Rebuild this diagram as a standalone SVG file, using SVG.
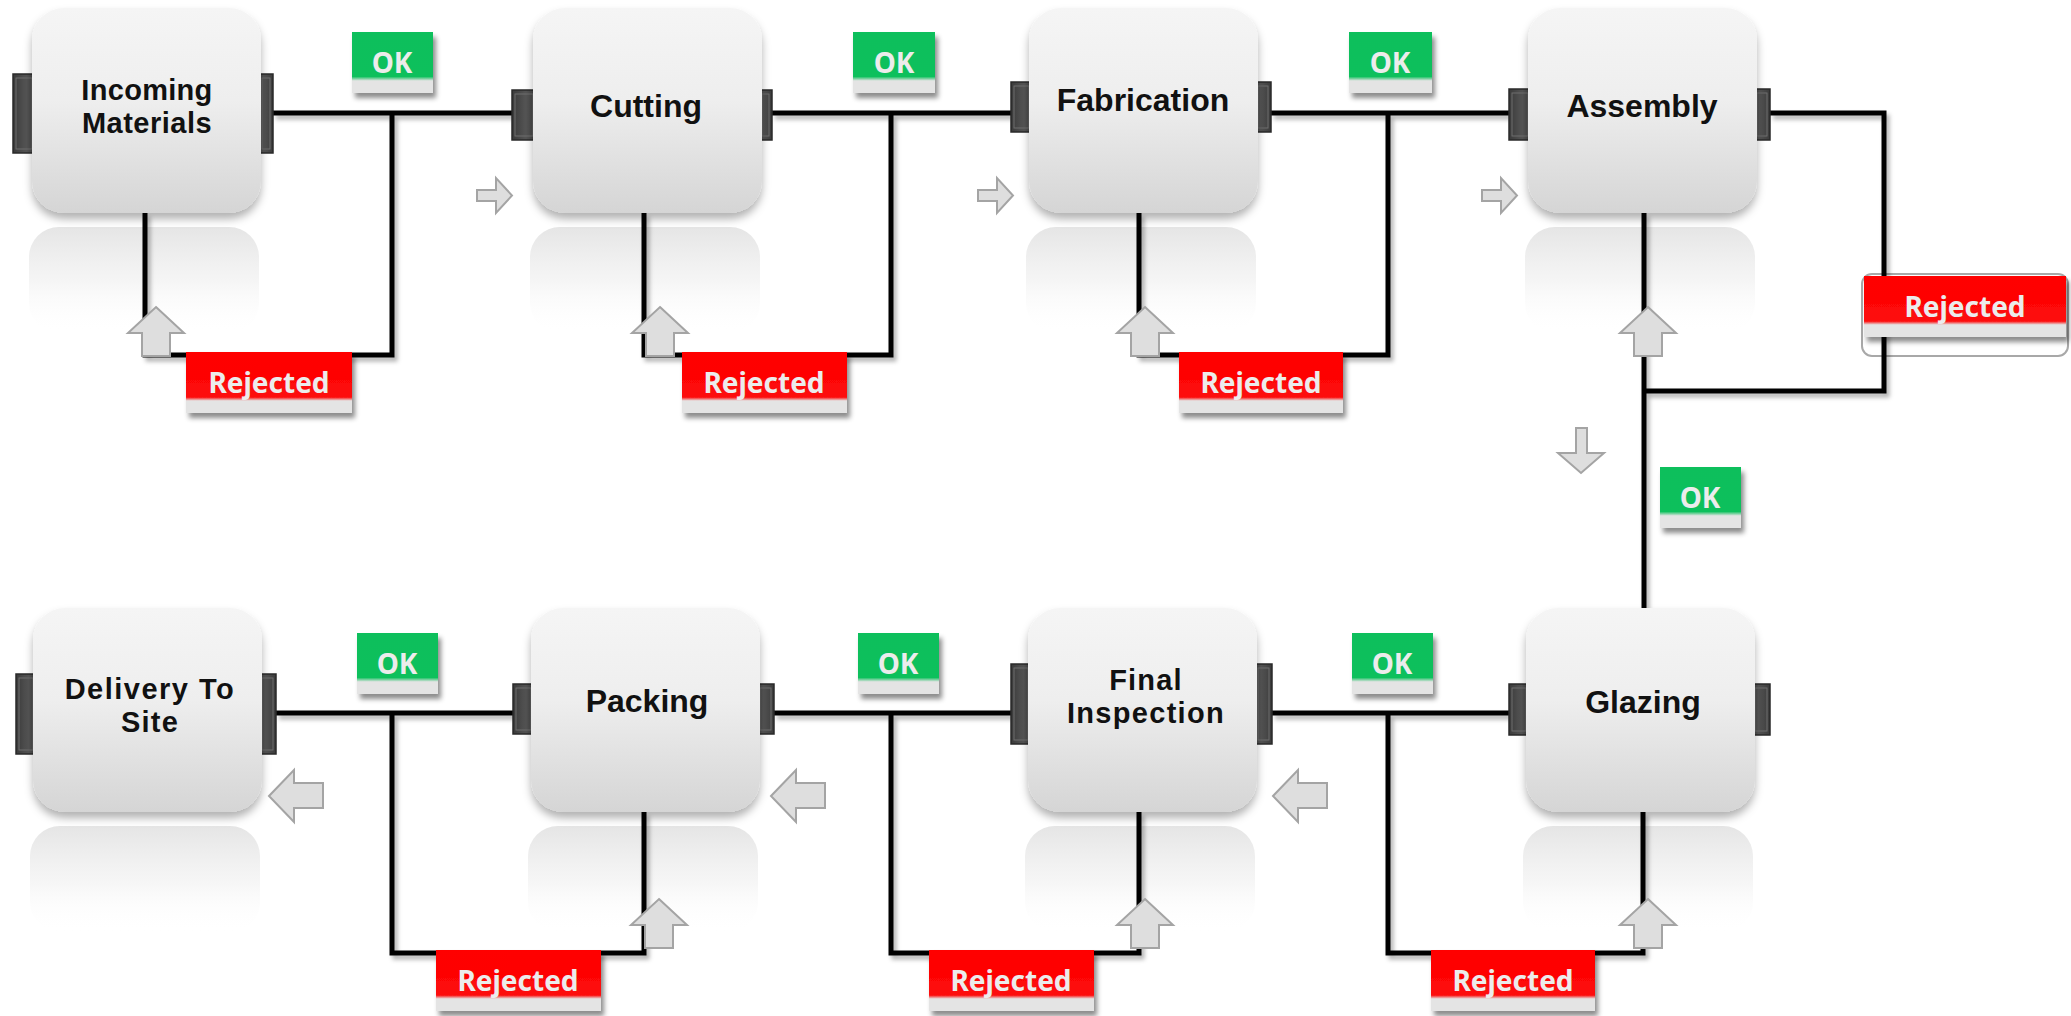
<svg xmlns="http://www.w3.org/2000/svg" width="2071" height="1016" viewBox="0 0 2071 1016">
<defs>
<linearGradient id="boxGrad" x1="0" y1="0" x2="0" y2="1">
<stop offset="0" stop-color="#f5f5f5"/><stop offset="0.45" stop-color="#eeeeee"/><stop offset="1" stop-color="#d5d5d5"/>
</linearGradient>
<linearGradient id="reflGrad" x1="0" y1="0" x2="0" y2="1">
<stop offset="0" stop-color="#e2e2e2" stop-opacity="0.9"/><stop offset="0.5" stop-color="#eeeeee" stop-opacity="0.6"/><stop offset="1" stop-color="#ffffff" stop-opacity="0"/>
</linearGradient>
<linearGradient id="okGrad" x1="0" y1="0" x2="0" y2="1">
<stop offset="0" stop-color="#0dbf5b"/><stop offset="0.73" stop-color="#0fc05c"/><stop offset="0.8" stop-color="#e4e4e4"/><stop offset="1" stop-color="#e4e4e4"/>
</linearGradient>
<linearGradient id="rejGrad" x1="0" y1="0" x2="0" y2="1">
<stop offset="0" stop-color="#ff0000"/><stop offset="0.74" stop-color="#fd0a0a"/><stop offset="0.8" stop-color="#e4e4e4"/><stop offset="1" stop-color="#e4e4e4"/>
</linearGradient>
<linearGradient id="tabGrad" x1="0" y1="0" x2="1" y2="0">
<stop offset="0" stop-color="#3a3a3a"/><stop offset="0.5" stop-color="#555555"/><stop offset="1" stop-color="#3a3a3a"/>
</linearGradient>
<filter id="boxShadow" x="-10%" y="-10%" width="120%" height="130%">
<feDropShadow dx="0" dy="6" stdDeviation="4" flood-color="#000" flood-opacity="0.3"/>
</filter>
<filter id="lblShadow" x="-10%" y="-20%" width="125%" height="150%">
<feDropShadow dx="3" dy="5" stdDeviation="2.5" flood-color="#000" flood-opacity="0.45"/>
</filter>
<filter id="lineShadow" x="-5%" y="-5%" width="110%" height="110%">
<feDropShadow dx="3" dy="4" stdDeviation="2" flood-color="#000" flood-opacity="0.3"/>
</filter>
<path id="arrR" d="M0,12 H19 V0 L35,17.5 L19,35 V23 H0 Z"/>
<path id="arrU" d="M28,0 L56,26 H42 V49 H14 V26 H0 Z"/>
<path id="arrL" d="M0,26 L25,0 V13 H54 V38 H25 V52 Z"/>
<path id="arrD" d="M18,0 H29 V25 H46 L23,45 L0,25 H18 Z"/>
</defs>
<style>
.refl{fill:url(#reflGrad)}
.box{fill:url(#boxGrad);filter:url(#boxShadow)}
.tab{fill:url(#tabGrad);stroke:#2a2a2a;stroke-width:1.5}
.tabi{fill:none;stroke:#6e6e6e;stroke-width:1}
.nt{font-family:"Liberation Sans",Arial,sans-serif;font-weight:bold;font-size:32px;fill:#111;text-anchor:middle}
.nt2{font-family:"Liberation Sans",Arial,sans-serif;font-weight:bold;font-size:29px;fill:#111;text-anchor:middle}
.ln{fill:none;stroke:#000;stroke-width:5;stroke-linejoin:miter}
.arr{fill:#dedede;stroke:#a4a4a4;stroke-width:2}
.ok{fill:url(#okGrad);filter:url(#lblShadow)}
.rej{fill:url(#rejGrad);filter:url(#lblShadow)}
.lt{font-family:"Noto Sans","Liberation Sans",sans-serif;font-weight:bold;font-size:28px;fill:#ececec;text-anchor:middle}
</style>
<rect width="2071" height="1016" fill="#ffffff"/>

<g id="reflections">
<rect class="refl" x="29" y="227" width="230" height="106" rx="30"/>
<rect class="refl" x="530" y="227" width="230" height="106" rx="30"/>
<rect class="refl" x="1026" y="227" width="230" height="106" rx="30"/>
<rect class="refl" x="1525" y="227" width="230" height="106" rx="30"/>
<rect class="refl" x="30" y="826" width="230" height="106" rx="30"/>
<rect class="refl" x="528" y="826" width="230" height="106" rx="30"/>
<rect class="refl" x="1025" y="826" width="230" height="106" rx="30"/>
<rect class="refl" x="1523" y="826" width="230" height="106" rx="30"/>
</g>

<rect x="1862" y="274" width="206" height="82" rx="10" fill="none" stroke="#a8a8a8" stroke-width="2"/>

<g id="connectors" filter="url(#lineShadow)">
<path class="ln" d="M273,113 H512 M392,113 V355 H145 V213"/>
<path class="ln" d="M772,113 H1011 M891,113 V355 H644 V213"/>
<path class="ln" d="M1271,113 H1509 M1388,113 V355 H1139 V213"/>
<path class="ln" d="M1770,113 H1884 V391 H1644 M1644,213 V608"/>
<path class="ln" d="M1509,713 H1272 M1388,713 V953 H1643 V812"/>
<path class="ln" d="M1011,713 H774 M891,713 V953 H1139 V812"/>
<path class="ln" d="M513,713 H276 M392,713 V953 H644 V812"/>
</g>

<g id="node-incoming">
<rect class="tab" x="13" y="74" width="27" height="79"/><rect class="tabi" x="16" y="78" width="16" height="71"/>
<rect class="tab" x="254" y="74" width="19" height="79"/><rect class="tabi" x="262" y="78" width="8" height="71"/>
<rect class="box" x="32" y="8" width="229" height="205" rx="32"/>
<text class="nt2"><tspan x="147" y="100" letter-spacing="0.3">Incoming</tspan><tspan x="147" y="133" letter-spacing="0.5">Materials</tspan></text>
</g>
<g id="node-cutting">
<rect class="tab" x="512" y="90" width="28" height="50"/><rect class="tabi" x="515" y="94" width="18" height="42"/>
<rect class="tab" x="754" y="90" width="18" height="50"/><rect class="tabi" x="762" y="94" width="7" height="42"/>
<rect class="box" x="533" y="8" width="229" height="205" rx="32"/>
<text class="nt" x="646" y="117">Cutting</text>
</g>
<g id="node-fabrication">
<rect class="tab" x="1011" y="82" width="26" height="50"/><rect class="tabi" x="1014" y="86" width="15" height="42"/>
<rect class="tab" x="1250" y="82" width="21" height="50"/><rect class="tabi" x="1258" y="86" width="10" height="42"/>
<rect class="box" x="1029" y="8" width="229" height="205" rx="32"/>
<text class="nt" x="1143" y="111">Fabrication</text>
</g>
<g id="node-assembly">
<rect class="tab" x="1509" y="89" width="27" height="51"/><rect class="tabi" x="1512" y="93" width="16" height="43"/>
<rect class="tab" x="1749" y="89" width="21" height="51"/><rect class="tabi" x="1757" y="93" width="10" height="43"/>
<rect class="box" x="1528" y="8" width="229" height="205" rx="32"/>
<text class="nt" x="1642" y="117">Assembly</text>
</g>
<g id="node-delivery">
<rect class="tab" x="16" y="674" width="25" height="80"/><rect class="tabi" x="19" y="678" width="14" height="72"/>
<rect class="tab" x="254" y="674" width="22" height="80"/><rect class="tabi" x="262" y="678" width="11" height="72"/>
<rect class="box" x="33" y="608" width="229" height="204" rx="32"/>
<text class="nt2"><tspan x="150" y="699" letter-spacing="1.5">Delivery To</tspan><tspan x="150" y="732" letter-spacing="1.2">Site</tspan></text>
</g>
<g id="node-packing">
<rect class="tab" x="513" y="684" width="26" height="50"/><rect class="tabi" x="516" y="688" width="15" height="42"/>
<rect class="tab" x="752" y="684" width="22" height="50"/><rect class="tabi" x="760" y="688" width="11" height="42"/>
<rect class="box" x="531" y="608" width="229" height="204" rx="32"/>
<text class="nt" x="647" y="712">Packing</text>
</g>
<g id="node-final-inspection">
<rect class="tab" x="1011" y="664" width="25" height="80"/><rect class="tabi" x="1014" y="668" width="14" height="72"/>
<rect class="tab" x="1250" y="664" width="22" height="80"/><rect class="tabi" x="1258" y="668" width="11" height="72"/>
<rect class="box" x="1028" y="608" width="229" height="204" rx="32"/>
<text class="nt2"><tspan x="1146" y="690" letter-spacing="1.2">Final</tspan><tspan x="1146" y="723" letter-spacing="1.3">Inspection</tspan></text>
</g>
<g id="node-glazing">
<rect class="tab" x="1509" y="684" width="25" height="51"/><rect class="tabi" x="1512" y="688" width="14" height="43"/>
<rect class="tab" x="1747" y="684" width="23" height="51"/><rect class="tabi" x="1755" y="688" width="12" height="43"/>
<rect class="box" x="1526" y="608" width="229" height="204" rx="32"/>
<text class="nt" x="1643" y="713">Glazing</text>
</g>

<g id="flow-arrows">
<use href="#arrR" class="arr" x="477" y="178"/>
<use href="#arrR" class="arr" x="978" y="178"/>
<use href="#arrR" class="arr" x="1482" y="178"/>
<use href="#arrD" class="arr" x="1558" y="428"/>
<use href="#arrL" class="arr" x="269" y="770"/>
<use href="#arrL" class="arr" x="771" y="770"/>
<use href="#arrL" class="arr" x="1273" y="770"/>
<use href="#arrU" class="arr" x="128" y="307"/>
<use href="#arrU" class="arr" x="632" y="307"/>
<use href="#arrU" class="arr" x="1117" y="307"/>
<use href="#arrU" class="arr" x="1620" y="307"/>
<use href="#arrU" class="arr" x="631" y="899"/>
<use href="#arrU" class="arr" x="1117" y="899"/>
<use href="#arrU" class="arr" x="1620" y="899"/>
</g>

<g id="labels">
<rect class="ok" x="352" y="32" width="81" height="61"/><text class="lt" x="392" y="73">OK</text>
<rect class="ok" x="853" y="32" width="82" height="61"/><text class="lt" x="894" y="73">OK</text>
<rect class="ok" x="1349" y="32" width="83" height="61"/><text class="lt" x="1390" y="73">OK</text>
<rect class="ok" x="1660" y="467" width="81" height="61"/><text class="lt" x="1700" y="508">OK</text>
<rect class="ok" x="357" y="633" width="81" height="61"/><text class="lt" x="397" y="674">OK</text>
<rect class="ok" x="858" y="633" width="81" height="61"/><text class="lt" x="898" y="674">OK</text>
<rect class="ok" x="1352" y="633" width="81" height="61"/><text class="lt" x="1392" y="674">OK</text>
<rect class="rej" x="186" y="352" width="166" height="61"/><text class="lt" x="269" y="393">Rejected</text>
<rect class="rej" x="682" y="352" width="165" height="61"/><text class="lt" x="764" y="393">Rejected</text>
<rect class="rej" x="1179" y="352" width="164" height="61"/><text class="lt" x="1261" y="393">Rejected</text>
<rect class="rej" x="1864" y="276" width="202" height="61"/><text class="lt" x="1965" y="317">Rejected</text>
<rect class="rej" x="436" y="950" width="165" height="61"/><text class="lt" x="518" y="991">Rejected</text>
<rect class="rej" x="929" y="950" width="165" height="61"/><text class="lt" x="1011" y="991">Rejected</text>
<rect class="rej" x="1431" y="950" width="164" height="61"/><text class="lt" x="1513" y="991">Rejected</text>
</g>
</svg>
